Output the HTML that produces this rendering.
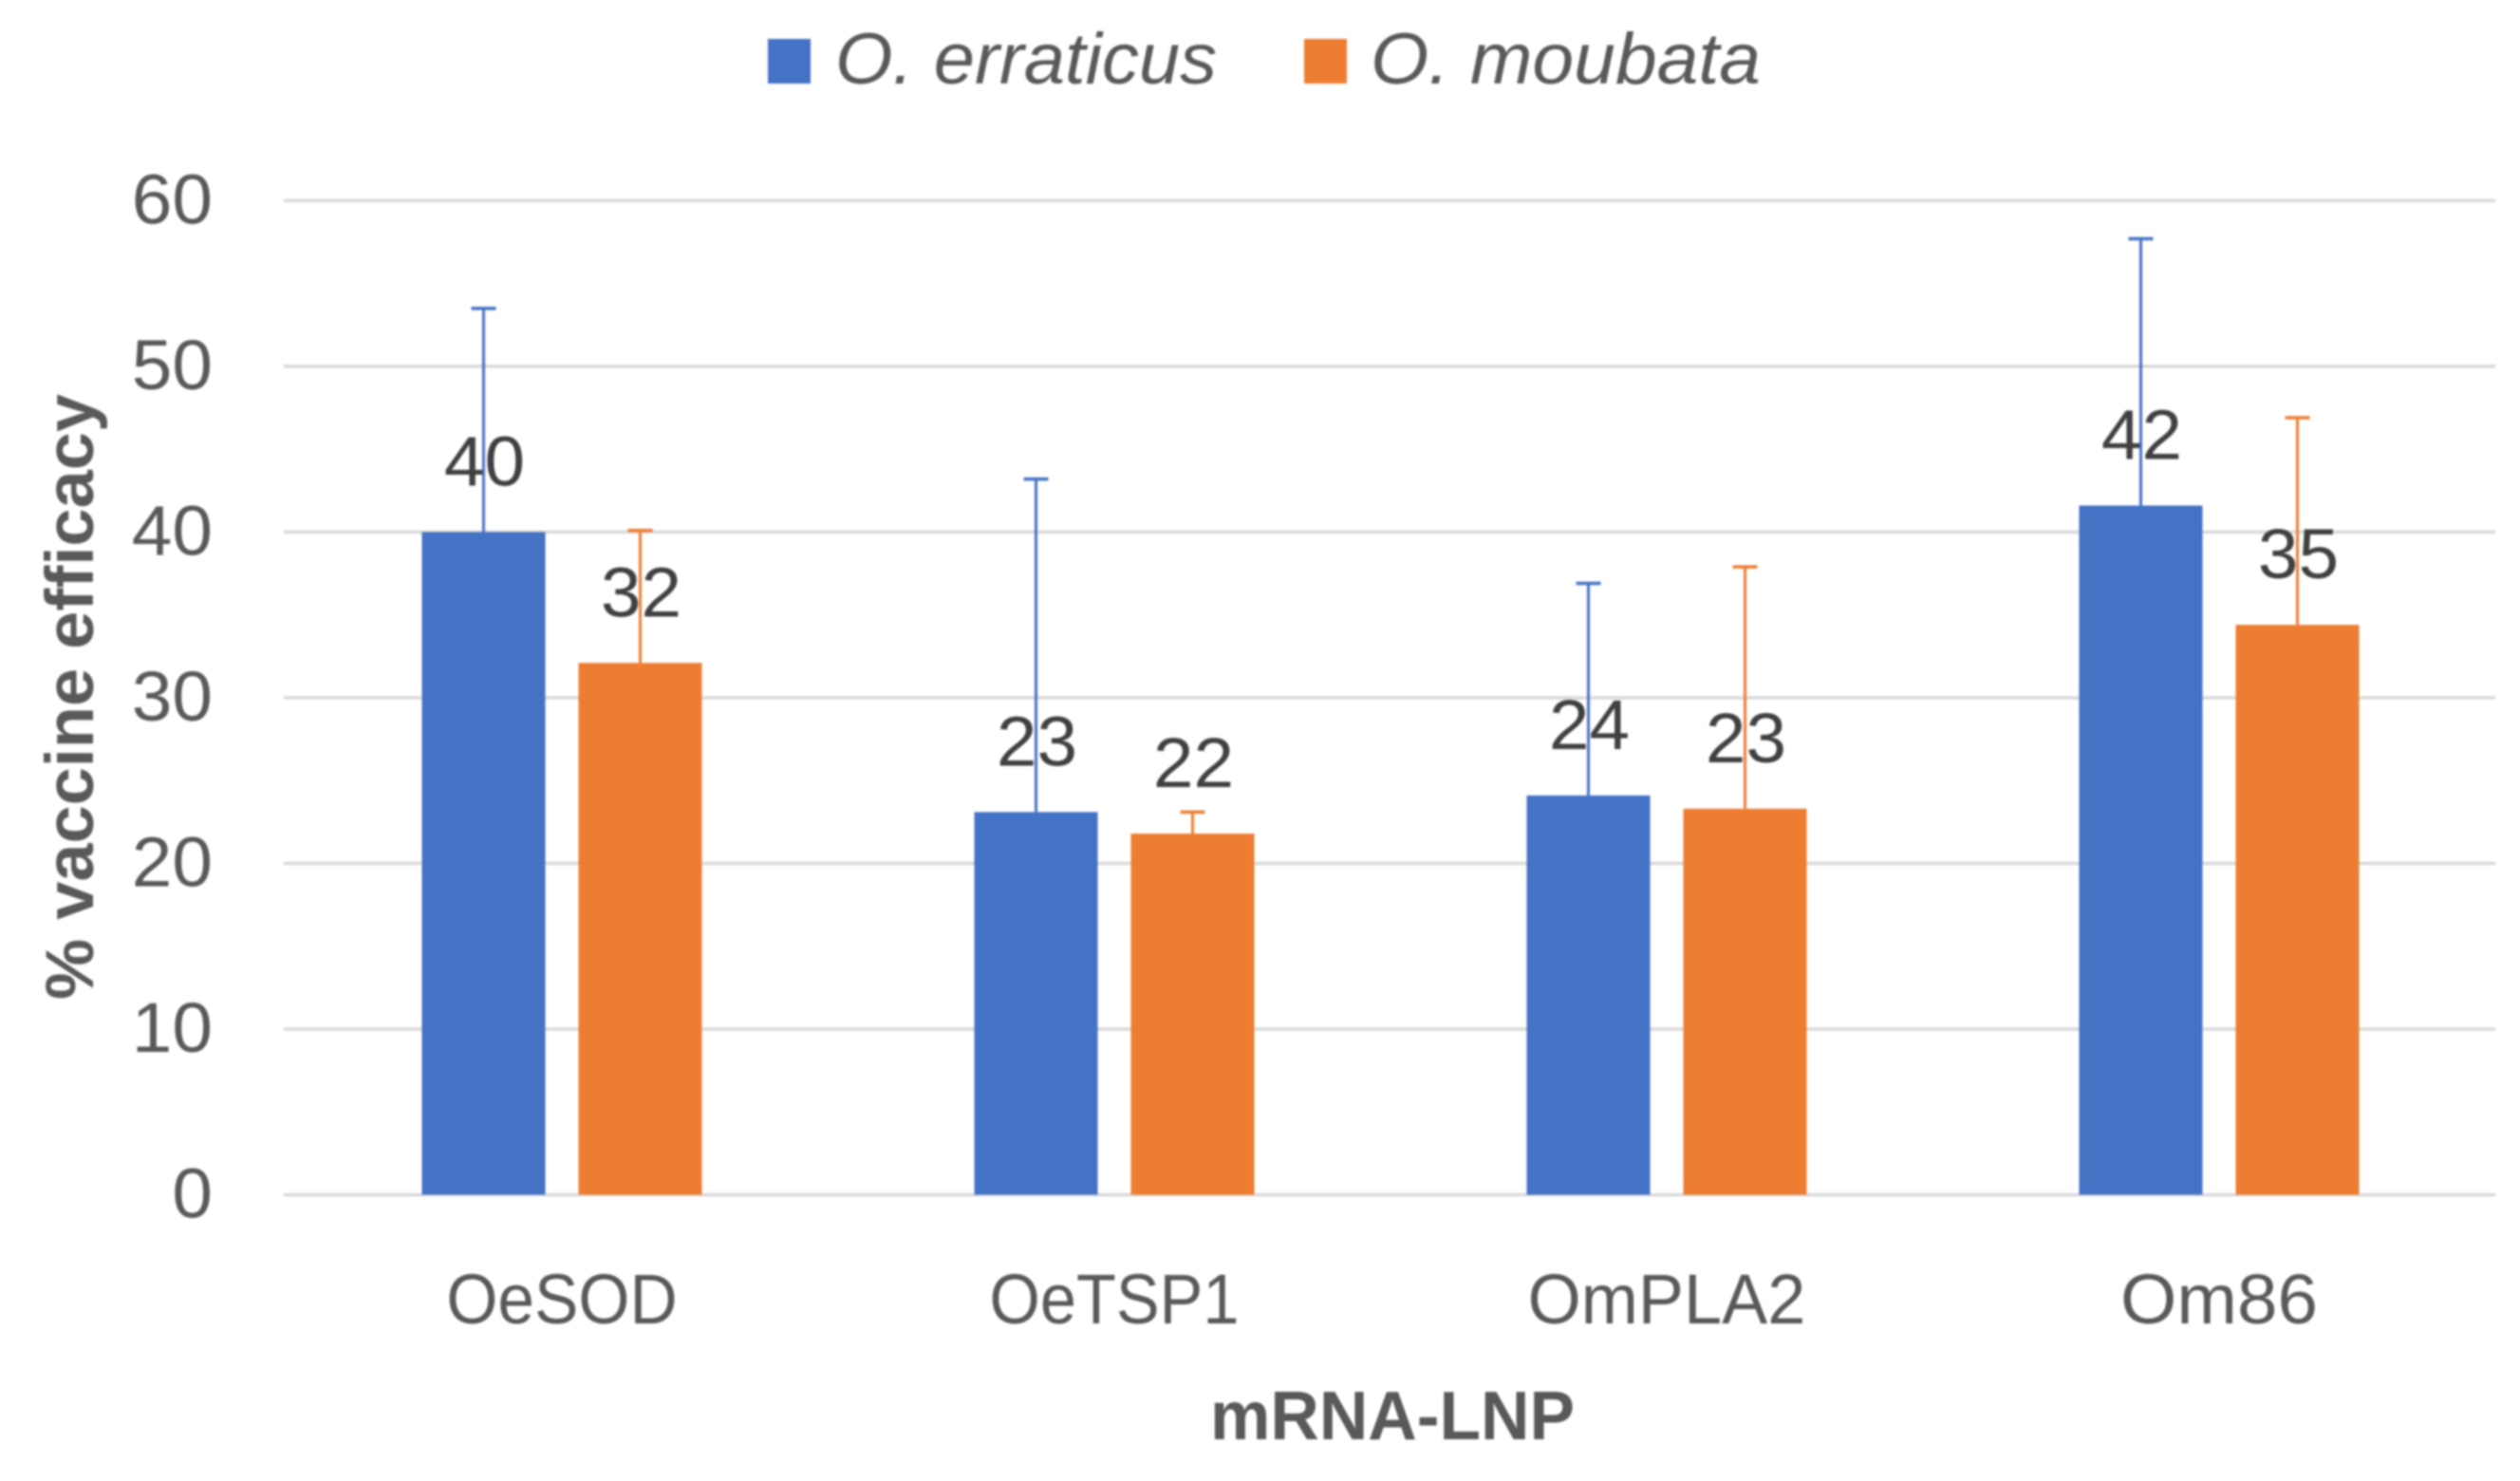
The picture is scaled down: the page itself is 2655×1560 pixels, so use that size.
<!DOCTYPE html>
<html lang="en">
<head>
<meta charset="utf-8">
<title>% vaccine efficacy by mRNA-LNP</title>
<style>
  html, body { margin: 0; padding: 0; background: #fff; width: 2655px; height: 1560px; overflow: hidden; }
  svg { display: block; filter: blur(1px); }
  text { font-family: "Liberation Sans", sans-serif; }
</style>
</head>
<body>
<svg id="chart" xmlns="http://www.w3.org/2000/svg" width="2655" height="1560" viewBox="0 0 2655 1560">
  <rect x="0" y="0" width="2655" height="1560" fill="#ffffff"/>
  <g id="grid"></g>
  <g id="yticks"></g>
  <g id="xticks"></g>
  <g id="bars"></g>
  <g id="errors"></g>
  <g id="labels"></g>

  <text transform="translate(98,734) rotate(-90)" text-anchor="middle" font-size="71" font-weight="700" fill="#595959" textLength="638" lengthAdjust="spacingAndGlyphs">% vaccine efficacy</text>
  <text x="1467" y="1516" text-anchor="middle" font-size="72" font-weight="700" fill="#595959" textLength="384" lengthAdjust="spacingAndGlyphs">mRNA-LNP</text>

  <g>
    <g>
      <rect x="809" y="41" width="45" height="47" fill="#4472C4"/>
      <text x="880" y="88" font-size="76" font-style="italic" fill="#595959" textLength="402" lengthAdjust="spacingAndGlyphs">O. erraticus</text>
    </g>
    <g>
      <rect x="1374" y="41" width="45" height="47" fill="#ED7D31"/>
      <text x="1444" y="88" font-size="76" font-style="italic" fill="#595959" textLength="411" lengthAdjust="spacingAndGlyphs">O. moubata</text>
    </g>
  </g>
</svg>

<script>
// Chart data
const categories = ["OeSOD", "OeTSP1", "OmPLA2", "Om86"];
const yTickLabels = [0, 10, 20, 30, 40, 50, 60];
const erraticusValues = [40.0, 23.1, 24.1, 41.6];
const moubataValues = [32.1, 21.8, 23.3, 34.4];
const erraticusErrors = [13.5, 20.1, 12.8, 16.1];
const moubataErrors = [8.0, 1.3, 14.6, 12.5];
const erraticusLabels = ["40", "23", "24", "42"];
const moubataLabels = ["32", "22", "23", "35"];

const NS = "http://www.w3.org/2000/svg";
const plotLeft = 299, plotRight = 2629, bandLeft = 301, zeroY = 1258.5, topY = 211.4, yMax = 60;
const barWidth = 130, barOffset = 82.5;
const textSize = 74, textFit = 84;

// Approximate glyph advance (em) of the narrower humanist face in the picture
const glyphEm = { O: .662, e: .498, S: .459, D: .615, T: .487, P: .517, m: .799, L: .42, A: .579 };

function yScale(v) { return zeroY - (v / yMax) * (zeroY - topY); }
function xBand(i) { return bandLeft + (i + 0.5) * (plotRight - bandLeft) / categories.length; }
function fitWidth(str) {
  let em = 0;
  for (const ch of str) em += (glyphEm[ch] !== undefined ? glyphEm[ch] : .507);
  return em * textFit;
}

function make(tag, parentId, attrs, text) {
  const el = document.createElementNS(NS, tag);
  for (const k in attrs) el.setAttribute(k, attrs[k]);
  if (text !== undefined) el.textContent = text;
  document.getElementById(parentId).appendChild(el);
  return el;
}

function fitAttrs(str, extra) {
  const attrs = { "font-size": textSize, textLength: fitWidth(str), lengthAdjust: "spacingAndGlyphs" };
  for (const k in extra) attrs[k] = extra[k];
  return attrs;
}

yTickLabels.forEach(function (t) {
  const line = make("line", "grid", { x1: plotLeft, x2: plotRight, y1: yScale(t), y2: yScale(t), stroke: "#D9D9D9", "stroke-width": 3.5 });
  
  
  const s = String(t);
  const label = make("text", "yticks", fitAttrs(s, { x: 224, y: yScale(t) + 24, "text-anchor": "end", fill: "#595959" }), s);
  
  
});

categories.forEach(function (c, i) {
  const label = make("text", "xticks", fitAttrs(c, { x: xBand(i), y: 1394, "text-anchor": "middle", fill: "#595959" }), c);
  
  
});

function drawSeries(name, values, errors, labels, color, offset) {
  values.forEach(function (v, i) {
    const cx = xBand(i) + offset;
    const key = name + '-' + categories[i].toLowerCase();

    const bar = make("rect", "bars", { x: cx - barWidth / 2, y: yScale(v), width: barWidth, height: zeroY - yScale(v), fill: color });
    
    

    const top = yScale(v + errors[i]);
    const stem = make("line", "errors", { x1: cx, x2: cx, y1: yScale(v), y2: top, stroke: color, "stroke-width": 3 });
    
    
    const cap = make("line", "errors", { x1: cx - 13, x2: cx + 13, y1: top, y2: top, stroke: color, "stroke-width": 3.5 });
    
    

    const label = make("text", "labels", fitAttrs(labels[i], { x: cx + 1, y: yScale(v) - 49, "text-anchor": "middle", fill: "#404040" }), labels[i]);
    
    
  });
}

drawSeries("o-erraticus", erraticusValues, erraticusErrors, erraticusLabels, "#4472C4", -barOffset);
drawSeries("o-moubata", moubataValues, moubataErrors, moubataLabels, "#ED7D31", barOffset);
</script>
</body>
</html>
